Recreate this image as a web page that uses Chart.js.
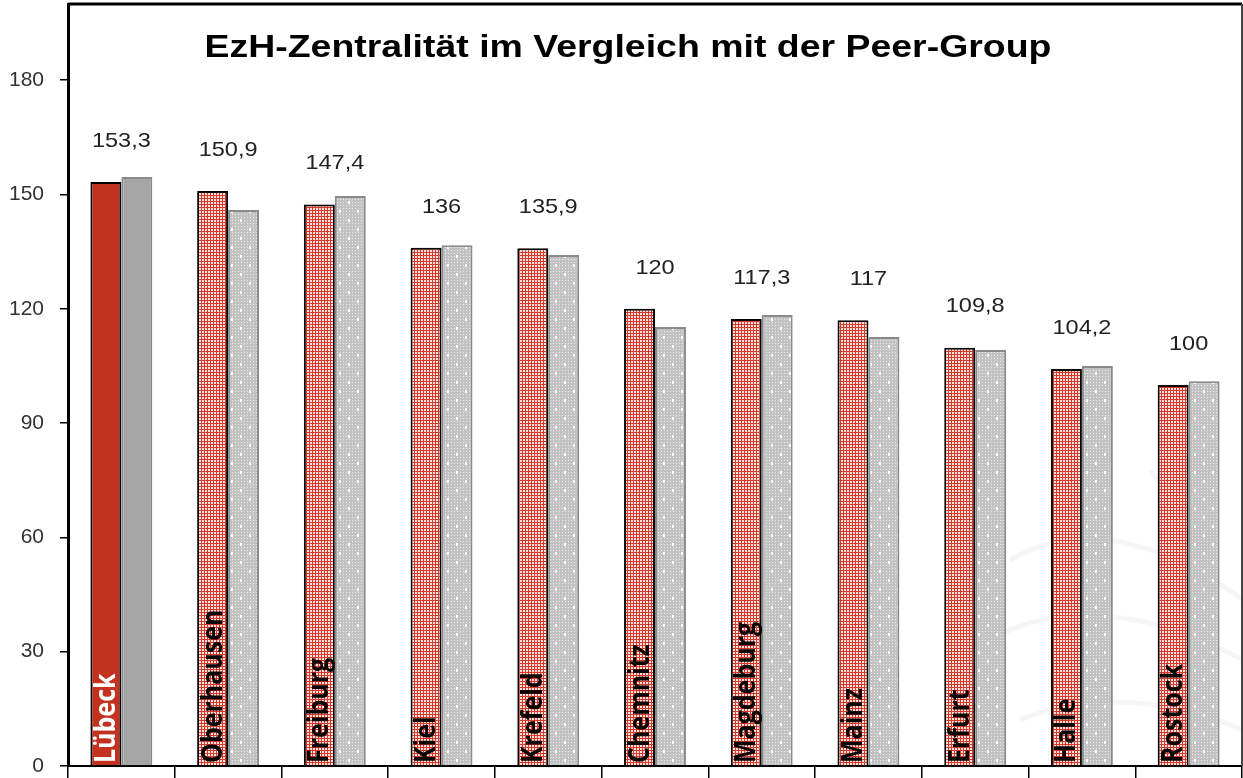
<!DOCTYPE html>
<html>
<head>
<meta charset="utf-8">
<script src="https://cdn.jsdelivr.net/npm/chart.js@4.4.1/dist/chart.umd.min.js"></script>
<style>
  html, body { margin: 0; padding: 0; background: #fff; }
  #wrap { width: 1243px; height: 778px; }
</style>
</head>
<body>
<div id="wrap"><canvas id="myChart" width="1243" height="778"></canvas></div>
<script>
// Daten
const staedte = ['Lübeck', 'Oberhausen', 'Freiburg', 'Kiel', 'Krefeld', 'Chemnitz', 'Magdeburg', 'Mainz', 'Erfurt', 'Halle', 'Rostock'];
const zentralitaet = [153.3, 150.9, 147.4, 136, 135.9, 120, 117.3, 117, 109.8, 104.2, 100];
const vergleich = [154.6, 145.9, 149.6, 136.7, 134.1, 115.2, 118.4, 112.6, 109.2, 105.0, 101.0];
const yTicks = [0, 30, 60, 90, 120, 150, 180];
const titel = 'EzH-Zentralität im Vergleich mit der Peer-Group';

function makePattern(bg, dot, w, big) {
    var c = document.createElement('canvas');
    c.width = 18; c.height = 18;
    var g = c.getContext('2d');
    g.fillStyle = bg;
    g.fillRect(0, 0, 18, 18);
    g.fillStyle = dot;
    for (var x = 1; x < 18; x += 3) {
        for (var y = 1; y < 18; y += 3) {
            g.fillRect(x, y, w, w);
        }
    }
    if (big) {
        g.fillStyle = '#ffffff';
        g.fillRect(6, 3, 2, 3);
        g.fillRect(15, 12, 2, 3);
    }
    return g.createPattern(c, 'repeat');
}

var ctx = document.getElementById('myChart').getContext('2d');
var rotMuster = makePattern('#d8382a', '#fbe4e0', 2, false);
var grauMuster = makePattern('#c2c2c2', '#ececec', 1, true);

var rotFarben = staedte.map(function (s, i) { return i === 0 ? '#c3311f' : rotMuster; });
var grauFarben = staedte.map(function (s, i) { return i === 0 ? '#a5a5a5' : grauMuster; });

function fmt(v) {
    return String(v).replace('.', ',');
}

// gestreckten Text zeichnen (Vorlage ist waagerecht gedehnt)
function wideText(c, txt, x, y, sx) {
    c.save();
    c.translate(x, y);
    c.scale(sx, 1);
    c.fillText(txt, 0, 0);
    c.restore();
}

const extras = {
    id: 'extras',
    beforeDatasetsDraw: function (chart) {
        // blasses Wasserzeichen unten rechts
        var c = chart.ctx;
        c.save();
        c.strokeStyle = 'rgba(0,0,0,0.035)';
        c.lineWidth = 5;
        c.beginPath();
        c.moveTo(1010, 560); c.bezierCurveTo(1080, 520, 1160, 540, 1243, 600);
        c.moveTo(990, 640); c.bezierCurveTo(1060, 600, 1150, 610, 1243, 660);
        c.moveTo(1020, 720); c.bezierCurveTo(1090, 690, 1170, 700, 1243, 730);
        c.moveTo(1150, 470); c.bezierCurveTo(1190, 520, 1200, 600, 1180, 700);
        c.stroke();
        c.restore();
    },
    afterDraw: function (chart) {
        var c = chart.ctx;
        var area = chart.chartArea;
        var x = chart.scales.x;
        var y = chart.scales.y;
        var meta = chart.getDatasetMeta(0);

        c.save();
        // Rahmen oben und rechts
        c.strokeStyle = '#000';
        c.lineWidth = 3;
        c.beginPath();
        c.moveTo(area.left, area.top);
        c.lineTo(area.right, area.top);
        c.stroke();
        c.strokeStyle = '#444';
        c.lineWidth = 2;
        c.beginPath();
        c.moveTo(area.right, area.top);
        c.lineTo(area.right, area.bottom);
        c.stroke();

        // Titel
        c.fillStyle = '#000';
        c.font = 'bold 31px "Liberation Sans", Arial, sans-serif';
        c.textAlign = 'center';
        c.textBaseline = 'alphabetic';
        var tw = c.measureText(titel).width;
        wideText(c, titel, 628, 57, 847 / tw);

        // Wertebeschriftung
        c.font = '21px "Liberation Sans", Arial, sans-serif';
        c.fillStyle = '#222';
        c.textBaseline = 'middle';
        for (var i = 0; i < zentralitaet.length; i++) {
            var cx = x.getPixelForValue(i);
            var top = y.getPixelForValue(zentralitaet[i]);
            wideText(c, fmt(zentralitaet[i]), cx, top - 41, 1.12);
        }

        // Stadtnamen senkrecht in den Balken
        c.font = 'bold 25px "Open Sans", "Liberation Sans", sans-serif';
        c.textAlign = 'left';
        c.textBaseline = 'middle';
        for (var j = 0; j < staedte.length; j++) {
            var bar = meta.data[j];
            c.save();
            c.translate(bar.x + 1, area.bottom - 3);
            c.rotate(-Math.PI / 2);
            c.scale(1, 1.12);
            c.fillStyle = j === 0 ? '#fff' : '#000';
            c.fillText(staedte[j], 0, 0);
            c.restore();
        }
        c.restore();
    }
};

var myChart = new Chart(ctx, {
    type: 'bar',
    data: {
        labels: staedte,
        datasets: [{
            label: 'EzH-Zentralität',
            data: zentralitaet,
            backgroundColor: rotFarben,
            borderColor: '#000',
            borderWidth: 2,
            borderSkipped: 'bottom'
        }, {
            label: 'Peer-Group',
            data: vergleich,
            backgroundColor: grauFarben,
            borderColor: '#8a8a8a',
            borderWidth: 2,
            borderSkipped: 'bottom'
        }]
    },
    options: {
        responsive: false,
        animation: false,
        devicePixelRatio: 1,
        layout: { padding: { top: 4, right: 1, left: 0, bottom: 0 } },
        datasets: {
            bar: { categoryPercentage: 0.58, barPercentage: 1 }
        },
        plugins: {
            legend: { display: false },
            title: { display: false },
            tooltip: { enabled: false }
        },
        scales: {
            x: {
                grid: {
                    drawOnChartArea: false,
                    drawTicks: true,
                    tickLength: 12,
                    color: '#000',
                    lineWidth: 1.5,
                    offset: true
                },
                border: { color: '#000', width: 2 },
                ticks: { display: false }
            },
            y: {
                min: 0,
                max: 200,
                afterBuildTicks: function (scale) {
                    scale.ticks = yTicks.map(function (v) { return { value: v }; });
                },
                afterFit: function (scale) {
                    scale.width = 68;
                    scale.paddingTop = 0;
                    scale.paddingBottom = 0;
                },
                grid: {
                    drawOnChartArea: false,
                    tickLength: 8,
                    color: '#000',
                    lineWidth: 1.5
                },
                border: { color: '#000', width: 3 },
                ticks: {
                    padding: 16,
                    color: '#333',
                    font: { family: '"Liberation Sans", Arial, sans-serif', size: 21 }
                }
            }
        }
    },
    plugins: [extras]
});
</script>
</body>
</html>
